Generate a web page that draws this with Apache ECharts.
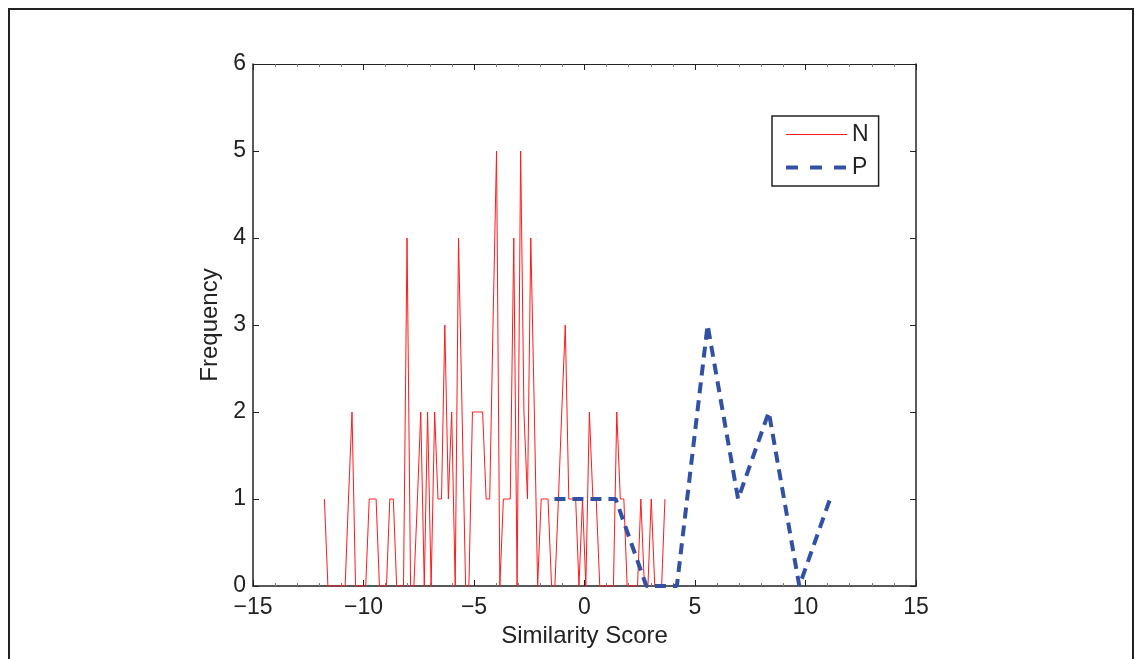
<!DOCTYPE html>
<html>
<head>
<meta charset="utf-8">
<script src="https://cdn.jsdelivr.net/npm/echarts@6/dist/echarts.min.js"></script>
<style>
html,body{margin:0;padding:0;background:#fff;}
#chart{width:1135px;height:659px;}
</style>
</head>
<body>
<div id="chart"></div>
<script>
// N: histogram bin centers and counts
var nScore = [-11.77,-11.61,-11.45,-11.30,-11.14,-10.99,-10.83,-10.68,-10.52,-10.36,
	-10.21,-10.05,-9.90,-9.74,-9.59,-9.43,-9.28,-9.12,-8.96,-8.81,
	-8.65,-8.50,-8.34,-8.19,-8.03,-7.87,-7.72,-7.56,-7.41,-7.25,
	-7.10,-6.94,-6.78,-6.63,-6.47,-6.32,-6.16,-6.01,-5.85,-5.70,
	-5.54,-5.38,-5.23,-5.07,-4.92,-4.76,-4.61,-4.45,-4.29,-4.14,
	-3.98,-3.83,-3.67,-3.52,-3.36,-3.20,-3.05,-2.89,-2.74,-2.58,
	-2.43,-2.27,-2.12,-1.96,-1.80,-1.65,-1.49,-1.34,-1.18,-1.03,
	-0.87,-0.71,-0.56,-0.40,-0.25,-0.09,0.06,0.22,0.38,0.53,
	0.69,0.84,1.00,1.15,1.31,1.46,1.62,1.78,1.93,2.09,
	2.24,2.40,2.55,2.71,2.87,3.02,3.18,3.33,3.49,3.64];
var nFreq = [1,0,0,0,0,0,0,1,2,0,
	0,0,0,1,1,1,0,0,0,1,
	1,0,0,0,4,0,0,1,2,0,
	2,0,2,1,1,3,1,2,0,4,
	2,0,0,2,2,2,2,1,1,3,
	5,0,1,1,1,4,0,5,2,1,
	4,2,0,1,1,1,0,0,1,2,
	3,1,1,1,0,1,0,2,1,1,
	0,0,0,0,0,2,1,1,0,0,
	0,0,1,0,0,1,0,0,0,1];

// P: histogram bin centers and counts
var pScore = [-1.36,0.03,1.41,2.80,4.18,5.57,6.95,8.34,9.72,11.11];
var pFreq = [1,1,1,0,0,3,1,2,0,1];

var xTicks = [-15,-10,-5,0,5,10,15];

function pairs(xs,ys){
	var out = [];
	for(var i=0;i<xs.length;i++){
		out.push([xs[i],ys[i]]);
	}
	return out;
}

var font = "'Liberation Sans', Arial, Helvetica, sans-serif";
var ink = '#222';
var red = '#ff1a1a';
var blue = '#3351a3';

var chart = echarts.init(document.getElementById("chart"));
var option = {
	animation:false,
	backgroundColor:'#fff',
	textStyle:{fontFamily:font},
	graphic:[{
		type:'rect',
		shape:{x:9,y:9,width:1124,height:700},
		style:{fill:'none',stroke:ink,lineWidth:2},
		silent:true
	}],
	grid:{left:253,top:64,right:219,bottom:73,containLabel:false},
	legend:{
		orient:'vertical',
		left:772,
		top:116,
		padding:[7,10,7,12],
		itemGap:10,
		itemWidth:61,
		itemHeight:14,
		borderColor:ink,
		borderWidth:1.5,
		backgroundColor:'#fff',
		itemStyle:{opacity:0},
		textStyle:{fontSize:23,color:ink,fontFamily:font},
		data:[
			{name:'N',lineStyle:{color:red,width:1}},
			{name:'P',lineStyle:{color:blue,width:4,type:[12,12]}}
		]
	},
	xAxis:[{
		type:'value',
		min:xTicks[0],
		max:xTicks[xTicks.length-1],
		interval:5,
		name:'Similarity Score',
		nameLocation:'middle',
		nameGap:35,
		nameTextStyle:{fontSize:24,color:ink,fontFamily:font},
		axisLine:{show:true,onZero:false,lineStyle:{color:ink,width:1.5}},
		axisTick:{show:true,inside:true,length:6,lineStyle:{color:ink}},
		minorTick:{show:true,splitNumber:5,length:3,lineStyle:{color:'#777'}},
		splitLine:{show:false},
		axisLabel:{fontSize:23,color:ink,margin:10,fontFamily:font,
			formatter:function(v){ return String(v).replace('-','\u2212'); }}
	},{
		type:'value',
		position:'top',
		min:xTicks[0],
		max:xTicks[xTicks.length-1],
		interval:5,
		axisLine:{show:true,onZero:false,lineStyle:{color:ink,width:1}},
		axisTick:{show:true,inside:true,length:6,lineStyle:{color:ink}},
		minorTick:{show:true,splitNumber:5,length:3,lineStyle:{color:'#777'}},
		splitLine:{show:false},
		axisLabel:{show:false}
	}],
	yAxis:[{
		type:'value',
		min:0,
		max:6,
		interval:1,
		name:'Frequency',
		nameLocation:'middle',
		nameGap:28,
		nameTextStyle:{fontSize:24,color:ink,fontFamily:font},
		axisLine:{show:true,onZero:false,lineStyle:{color:ink,width:1.5}},
		axisTick:{show:true,inside:true,length:6,lineStyle:{color:ink}},
		splitLine:{show:false},
		axisLabel:{fontSize:23,color:ink,margin:7,fontFamily:font}
	},{
		type:'value',
		position:'right',
		min:0,
		max:6,
		interval:1,
		axisLine:{show:true,onZero:false,lineStyle:{color:ink,width:1.5}},
		axisTick:{show:true,inside:true,length:6,lineStyle:{color:ink}},
		splitLine:{show:false},
		axisLabel:{show:false}
	}],
	series:[{
		name:'N',
		type:'line',
		symbol:'none',
		color:red,
		lineStyle:{color:red,width:1},
		data:pairs(nScore,nFreq)
	},{
		name:'P',
		type:'line',
		symbol:'none',
		color:blue,
		lineStyle:{color:blue,width:4,type:[11,7]},
		data:pairs(pScore,pFreq)
	}]
};
chart.setOption(option);
</script>
</body>
</html>
